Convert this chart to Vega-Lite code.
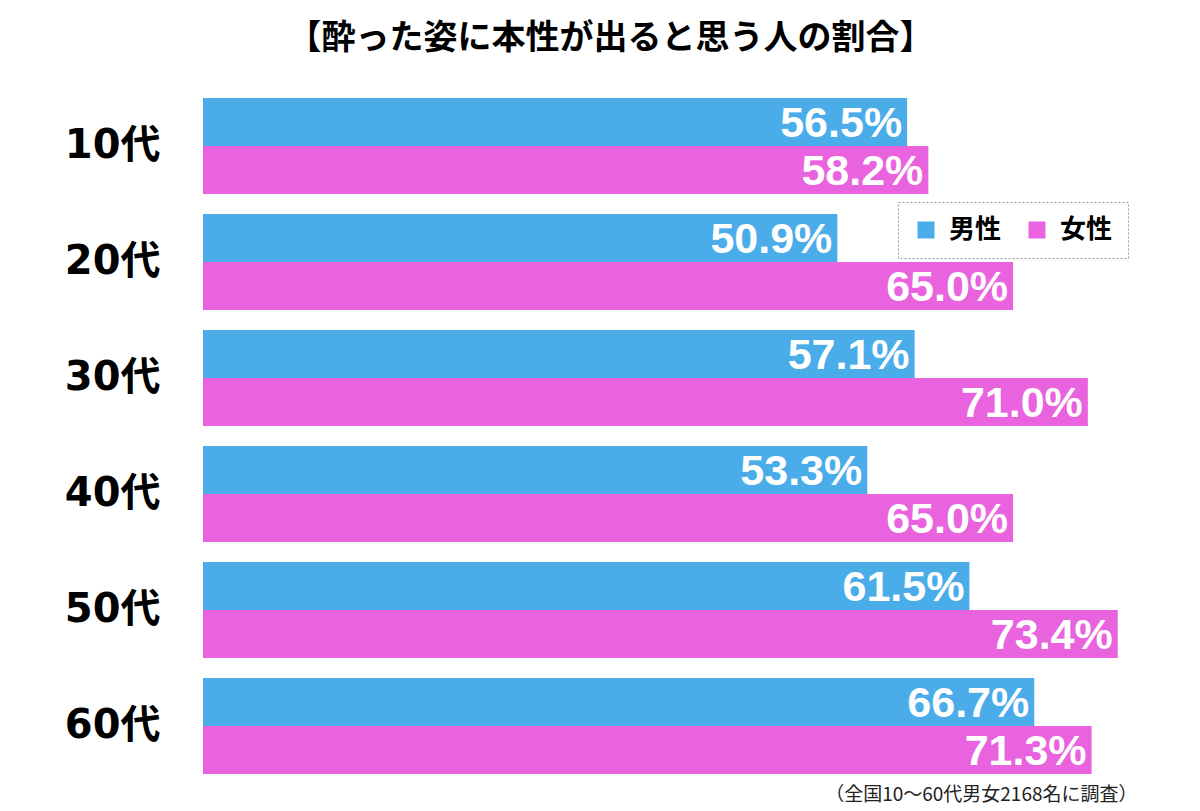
{
  "$schema": "https://vega.github.io/schema/vega-lite/v6.json",
  "width": 997,
  "height": 676,
  "autosize": {"type": "none"},
  "padding": {"left": 203, "top": 98, "right": 0, "bottom": 37},
  "background": "white",
  "view": {"stroke": null},
  "title": {
    "text": "【酔った姿に本性が出ると思う人の割合】",
    "font": "Noto Sans CJK JP",
    "fontSize": 34,
    "fontWeight": "bold",
    "color": "#000000",
    "anchor": "middle",
    "frame": "group",
    "dx": -91,
    "offset": 42
  },
  "data": {
    "values": [
      {"age": "10代", "gender": "男性", "value": 0.565},
      {"age": "10代", "gender": "女性", "value": 0.582},
      {"age": "20代", "gender": "男性", "value": 0.509},
      {"age": "20代", "gender": "女性", "value": 0.650},
      {"age": "30代", "gender": "男性", "value": 0.571},
      {"age": "30代", "gender": "女性", "value": 0.710},
      {"age": "40代", "gender": "男性", "value": 0.533},
      {"age": "40代", "gender": "女性", "value": 0.650},
      {"age": "50代", "gender": "男性", "value": 0.615},
      {"age": "50代", "gender": "女性", "value": 0.734},
      {"age": "60代", "gender": "男性", "value": 0.667},
      {"age": "60代", "gender": "女性", "value": 0.713}
    ]
  },
  "encoding": {
    "y": {
      "field": "age",
      "type": "nominal",
      "sort": ["10代", "20代", "30代", "40代", "50代", "60代"],
      "scale": {"paddingInner": 0.1724, "paddingOuter": 0},
      "axis": {
        "title": null,
        "ticks": false,
        "domain": false,
        "labelFont": "DejaVu Sans, Noto Sans CJK JP",
        "labelFontWeight": "bold",
        "labelFontSize": 40,
        "labelColor": "#000000",
        "labelPadding": 43
      }
    },
    "yOffset": {
      "field": "gender",
      "type": "nominal",
      "sort": ["男性", "女性"],
      "scale": {"paddingInner": 0, "paddingOuter": 0}
    },
    "x": {
      "field": "value",
      "type": "quantitative",
      "scale": {"domain": [0, 0.8], "nice": false, "clamp": true},
      "axis": {
        "labels": false,
        "ticks": false,
        "domain": false,
        "grid": false,
        "title": "（全国10〜60代男女2168名に調査）",
        "titleFont": "Noto Sans CJK JP",
        "titleFontSize": 19,
        "titleFontWeight": "normal",
        "titleColor": "#222222",
        "titleAnchor": "end",
        "titleAlign": "right",
        "titleBaseline": "middle",
        "titleX": 934,
        "titleY": 20
      }
    }
  },
  "layer": [
    {
      "mark": {"type": "bar", "cornerRadius": 0},
      "encoding": {
        "color": {
          "field": "gender",
          "type": "nominal",
          "sort": ["男性", "女性"],
          "scale": {"domain": ["男性", "女性"], "range": ["#4aade9", "#e962de"]},
          "legend": {
            "title": null,
            "orient": "none",
            "legendX": 695,
            "legendY": 104,
            "direction": "horizontal",
            "symbolType": "square",
            "symbolSize": 289,
            "symbolStrokeWidth": 0,
            "labelFont": "Noto Sans CJK JP",
            "labelFontSize": 26,
            "labelFontWeight": "bold",
            "labelColor": "#000000",
            "labelOffset": 10,
            "columnPadding": 22,
            "padding": 15,
            "fillColor": "white",
            "strokeColor": "#999999",
            "encode": {
              "legend": {"update": {"strokeDash": {"value": [2, 2]}}}
            }
          }
        }
      }
    },
    {
      "mark": {
        "type": "text",
        "align": "right",
        "baseline": "middle",
        "dx": -5,
        "dy": 2,
        "font": "Liberation Sans",
        "fontWeight": "bold",
        "fontSize": 43,
        "color": "white"
      },
      "encoding": {
        "text": {"field": "value", "type": "quantitative", "format": ".1%"}
      }
    }
  ]
}
